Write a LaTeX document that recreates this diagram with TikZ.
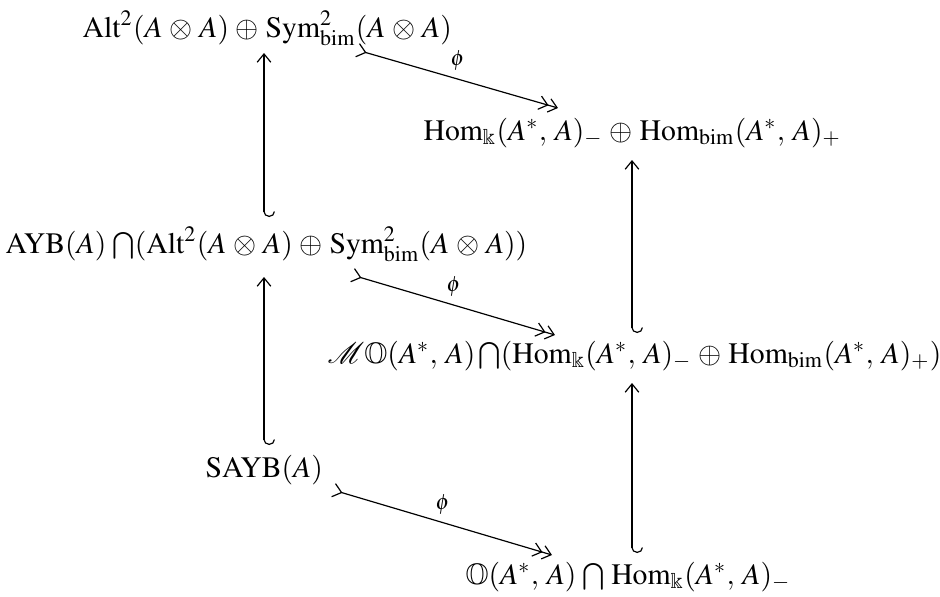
\documentclass[tikz,border=0pt]{standalone}
\usepackage{amssymb}
\usepackage{mathptmx}
\usepackage{fontspec}
\setmainfont{Liberation Serif}
\usetikzlibrary{arrows.meta}
\newcommand{\dgot}{\mathbin{\kern0.9pt\otimes\kern0.9pt}}
\newcommand{\dgop}{\mathbin{\kern0.9pt\oplus\kern0.9pt}}
\newcommand{\dgcm}{,\kern1.5pt}
\newcommand{\dgcap}{\kern1pt\bigcap}
\tikzset{
  obj/.style={anchor=base west, inner sep=0pt, font=\fontsize{10}{12}\selectfont},
  hk/.style={line width=0.4pt, {Hooks[left,length=1.85pt,width=7.4pt]}-{Straight Barb[length=2.8pt,width=4.6pt]}},
  mono/.style={line width=0.4pt, {Straight Barb[reversed,length=2.8pt,width=4.6pt]}-{Straight Barb[length=2.8pt,width=4.6pt]Straight Barb[length=2.8pt,width=4.6pt]}},
  lab/.style={midway, above=2.6pt, font=\fontsize{10}{12}\selectfont, inner sep=0pt}
}
\begin{document}
\begin{tikzpicture}[x=0.3367pt, y=-0.3367pt]
\useasboundingbox (0,0) rectangle (940,597);
\node[obj] (A1) at (82,37) {$\mathrm{Alt}^2(A\dgot A)\dgop\mathrm{Sym}^2_{\mathrm{bim}}(A\dgot A)$};
\node[obj] (B1) at (423,140) {$\mathrm{Hom}_{\Bbbk}(A^*\dgcm A)_-\dgop\mathrm{Hom}_{\mathrm{bim}}(A^*\dgcm A)_+$};
\node[obj] (A2) at (5,253) {$\mathrm{AYB}(A)\dgcap(\mathrm{Alt}^2(A\dgot A)\dgop\mathrm{Sym}^2_{\mathrm{bim}}(A\dgot A))$};
\node[obj] (B2) at (327,363) {$\mathcal{M}\mathbb{O}(A^*\dgcm A)\bigcap(\mathrm{Hom}_{\Bbbk}(A^*\dgcm A)_-\dgop\mathrm{Hom}_{\mathrm{bim}}(A^*\dgcm A)_+)$};
\node[obj] (A3) at (205,477) {$\mathrm{SAYB}(A)$};
\node[obj] (B3) at (465,584) {$\mathbb{O}(A^*\dgcm A)\dgcap\kern1pt\mathrm{Hom}_{\Bbbk}(A^*\dgcm A)_-$};
% vertical inclusions
\draw[hk] ([shift={(259,-36)}]A2.base west) -- ([shift={(182,16)}]A1.base west);
\draw[hk] ([shift={(59,-32)}]A3.base west) -- ([shift={(259,24)}]A2.base west);
\draw[hk] ([shift={(305,-30)}]B2.base west) -- ([shift={(209,20)}]B1.base west);
\draw[hk] ([shift={(167,-31)}]B3.base west) -- ([shift={(305,20)}]B2.base west);
% diagonal maps
\draw[mono] ([shift={(275,13)}]A1.base west) -- node[lab] {$\scriptstyle\phi$} ([shift={(135,-32)}]B1.base west);
\draw[mono] ([shift={(347,22)}]A2.base west) -- node[lab] {$\scriptstyle\phi$} ([shift={(228,-28)}]B2.base west);
\draw[mono] ([shift={(128,13)}]A3.base west) -- node[lab] {$\scriptstyle\phi$} ([shift={(87,-29)}]B3.base west);
\end{tikzpicture}
\end{document}
